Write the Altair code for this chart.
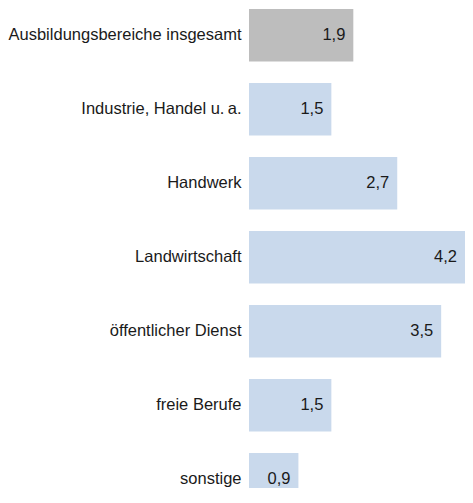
import altair as alt
import pandas as pd

categories = [
    "Ausbildungsbereiche insgesamt",
    "Industrie, Handel u.\u202fa.",
    "Handwerk",
    "Landwirtschaft",
    "öffentlicher Dienst",
    "freie Berufe",
    "sonstige",
]
values = [1.9, 1.5, 2.7, 4.2, 3.5, 1.5, 0.9]
groups = ["gesamt", "bereich", "bereich", "bereich", "bereich", "bereich", "bereich"]

df = pd.DataFrame({"kategorie": categories, "wert": values, "gruppe": groups})

FONT = "Liberation Sans"
FS = 16.5

y_enc = alt.Y(
    "kategorie:N",
    sort=None,
    scale=alt.Scale(range=[1, 497.5], paddingInner=0.2905, paddingOuter=0),
    axis=alt.Axis(
        title=None,
        ticks=False,
        domain=False,
        grid=False,
        labelPadding=8,
        labelFontSize=FS,
        labelFont=FONT,
        labelColor="#1a1a1a",
        labelLimit=400,
    ),
)
x_scale = alt.Scale(domain=[0, 3.934], nice=False, zero=True, clamp=True)

base = alt.Chart(df)

bars = base.mark_bar().encode(
    y=y_enc,
    x=alt.X("wert:Q", scale=x_scale, axis=None),
    color=alt.Color(
        "gruppe:N",
        scale=alt.Scale(domain=["gesamt", "bereich"], range=["#bdbdbd", "#c9d9ec"]),
        legend=None,
    ),
)

labels = base.transform_calculate(
    txt="replace(format(datum.wert, '.1f'), '.', ',')"
).mark_text(
    align="right", baseline="middle", dx=-8, fontSize=FS, font=FONT, color="#1a1a1a"
).encode(
    y=y_enc,
    x=alt.X("wert:Q", scale=x_scale, axis=None),
    text="txt:N",
)

chart = (
    (bars + labels)
    .properties(
        width=216,
        height=480,
        autosize=alt.AutoSizeParams(type="none"),
        padding={"left": 241, "top": 0, "right": 0, "bottom": 0},
    )
    .configure_view(stroke=None)
)

chart.save("out.html", embed_options={"renderer": "svg", "actions": False})
